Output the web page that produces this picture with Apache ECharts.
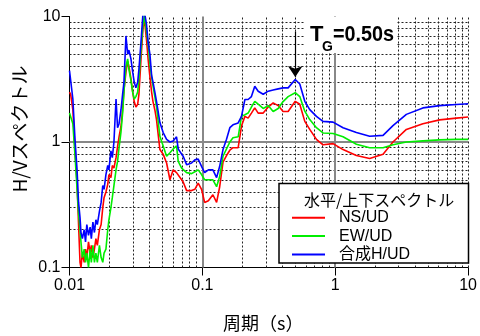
<!DOCTYPE html>
<html><head><meta charset="utf-8">
<script src="https://cdn.jsdelivr.net/npm/echarts@6/dist/echarts.min.js"></script>
<style>html,body{margin:0;padding:0;background:#fff}#c{width:480px;height:336px}</style>
</head><body><div id="c"></div>
<script>
const periods = [
0.01, 0.0102, 0.0106, 0.011, 0.0114, 0.0117, 0.012, 0.0122, 0.0125, 0.0129,
0.0132, 0.0135, 0.0139, 0.0143, 0.0146, 0.015, 0.0154, 0.0158, 0.0162, 0.0168,
0.0173, 0.0178, 0.0182, 0.0188, 0.0194, 0.0198, 0.0205, 0.021, 0.0216, 0.0224,
0.023, 0.0236, 0.0244, 0.0251, 0.0257, 0.0266, 0.0274, 0.028, 0.029, 0.0299,
0.0307, 0.0316, 0.0326, 0.0333, 0.0345, 0.0357, 0.0366, 0.038, 0.0391, 0.0403,
0.0415, 0.0425, 0.0439, 0.0452, 0.0479, 0.0507, 0.0538, 0.057, 0.0603, 0.0639,
0.0658, 0.0698, 0.0717, 0.0761, 0.0829, 0.0878, 0.093, 0.0986, 0.104, 0.111,
0.12, 0.128, 0.135, 0.143, 0.152, 0.161, 0.17, 0.186, 0.197, 0.209,
0.221, 0.234, 0.248, 0.263, 0.287, 0.313, 0.341, 0.372, 0.405, 0.442,
0.5, 0.541, 0.59, 0.643, 0.722, 0.809, 0.963, 1.145, 1.443, 1.816,
2.29, 2.72, 3.43, 4.57, 6.1, 8.15, 10
];
const nsUd = [
2.5, 2.4, 1.8, 0.87, 0.47, 0.22, 0.11, 0.1, 0.13, 0.11,
0.14, 0.12, 0.16, 0.13, 0.15, 0.12, 0.14, 0.17, 0.15, 0.2,
0.22, 0.3, 0.36, 0.4, 0.46, 0.55, 0.52, 0.65, 0.62, 0.75,
0.92, 1.1, 1.33, 1.8, 2.6, 3.6, 4.4, 4.0, 3.2, 2.5,
2.1, 1.9, 2.0, 2.4, 4.5, 8.0, 9.5, 6.5, 4.5, 3.3,
2.5, 2.1, 1.8, 1.5, 0.87, 0.8, 0.68, 0.5, 0.6, 0.57,
0.55, 0.5, 0.48, 0.41, 0.41, 0.42, 0.47, 0.42, 0.33, 0.34,
0.38, 0.33, 0.44, 0.69, 0.78, 0.86, 0.9, 0.9, 1.34, 1.6,
1.55, 1.7, 1.87, 1.7, 1.7, 1.9, 2.05, 1.95, 1.75, 1.75,
2.11, 2.0, 1.46, 1.26, 1.05, 0.95, 0.97, 0.87, 0.78, 0.74,
0.8, 1.0, 1.26, 1.4, 1.5, 1.55, 1.58
];
const ewUd = [
1.7, 1.65, 1.4, 0.78, 0.42, 0.27, 0.2, 0.16, 0.12, 0.14,
0.11, 0.13, 0.1, 0.14, 0.11, 0.15, 0.11, 0.13, 0.11, 0.15,
0.12, 0.11, 0.13, 0.14, 0.2, 0.24, 0.3, 0.36, 0.45, 0.6,
0.7, 0.9, 1.2, 1.7, 2.5, 4.0, 4.6, 3.8, 3.1, 2.5,
2.2, 2.3, 2.5, 3.2, 5.4, 8.5, 10.2, 7.5, 6.0, 4.2,
3.3, 2.8, 2.3, 1.9, 1.11, 0.93, 0.77, 0.82, 0.88, 0.93,
0.7, 0.62, 0.6, 0.57, 0.56, 0.58, 0.6, 0.55, 0.5, 0.5,
0.5, 0.44, 0.53, 0.77, 0.88, 1.0, 1.08, 1.1, 1.6, 1.65,
1.7, 1.9, 2.11, 2.0, 1.85, 1.95, 1.75, 1.85, 2.1, 2.3,
2.47, 2.3, 1.76, 1.51, 1.3, 1.18, 1.17, 1.1, 0.96, 0.9,
0.9, 0.95, 1.0, 1.02, 1.04, 1.05, 1.05
];
const hUd = [
3.7, 3.6, 2.2, 1.05, 0.6, 0.33, 0.25, 0.19, 0.17, 0.2,
0.16, 0.22, 0.18, 0.21, 0.17, 0.23, 0.19, 0.24, 0.22, 0.28,
0.33, 0.45, 0.42, 0.55, 0.65, 0.6, 0.85, 0.75, 1.0, 2.2,
1.3, 1.4, 1.8, 2.4, 3.0, 7.0, 5.0, 5.4, 4.6, 3.6,
3.0, 2.7, 3.0, 3.8, 6.2, 10.5, 11, 8.6, 6.2, 5.0,
3.4, 3.0, 2.5, 2.1, 1.43, 1.19, 1.05, 1.0, 1.02, 1.1,
0.88, 0.8, 0.77, 0.66, 0.68, 0.72, 0.73, 0.64, 0.57, 0.6,
0.6, 0.52, 0.64, 0.87, 1.05, 1.3, 1.37, 1.42, 1.6, 2.18,
2.18, 2.3, 2.78, 2.54, 2.4, 2.54, 2.6, 2.65, 2.7, 2.7,
3.15, 2.9, 2.11, 1.81, 1.6, 1.46, 1.44, 1.3, 1.19, 1.11,
1.13, 1.35, 1.66, 1.87, 1.95, 1.99, 2.02
];
const seriesNames = ['NS/UD', 'EW/UD', '合成H/UD'];
const seriesColors = ['#ff0000', '#00ee00', '#0000ff'];
const xTickLabels = ['0.01', '0.1', '1', '10'];
const yTickLabels = ['0.1', '1', '10'];
const xMinorGrid = [0.02,0.03,0.04,0.05,0.06,0.07,0.08,0.09,0.2,0.3,0.4,0.5,0.6,0.7,0.8,0.9,2,3,4,5,6,7,8,9,10];
const xMajorGrid = [0.1, 1];
const yMinorGrid = [0.2,0.3,0.4,0.5,0.6,0.7,0.8,0.9,2,3,4,5,6,7,8,9];
const yMajorGrid = [1];
const tgPeriod = 0.5;
const tgArrowFrom = 7.6;
const tgArrowTo = 3.3;

const chart = echarts.init(document.getElementById('c'), null, {renderer: 'canvas'});
const dotted = {color: '#222', width: 1, type: [2, 2]};
const solidGray = {color: '#888', width: 2, type: 'solid'};
const gridLines = [].concat(
  xMinorGrid.map(v => ({xAxis: v, lineStyle: dotted})),
  yMinorGrid.map(v => ({yAxis: v, lineStyle: dotted})),
  xMajorGrid.map(v => ({xAxis: v, lineStyle: solidGray})),
  yMajorGrid.map(v => ({yAxis: v, lineStyle: solidGray}))
);
const latin = 'Liberation Sans, Arial, sans-serif';
const cjk = 'Noto Sans CJK JP, sans-serif';
const mk = (name, vals, color, z) => ({
  type: 'line', name: name, data: periods.map((p, i) => [p, vals[i]]),
  symbol: 'none', showSymbol: false, z: z, clip: true,
  lineStyle: {color: color, width: 1.6}, itemStyle: {color: color},
  animation: false
});
const blue = mk(seriesNames[2], hUd, seriesColors[2], 5);
blue.markLine = {
  silent: true, z: 7, animation: false,
  symbol: ['none', 'arrow'], symbolSize: 11,
  lineStyle: {color: '#000', width: 1.2, type: 'solid'},
  label: {show: false},
  data: [[{coord: [tgPeriod, tgArrowFrom]}, {coord: [tgPeriod, tgArrowTo]}]]
};
const option = {
  animation: false,
  grid: {left: 69.5, right: 11.5, top: 16.5, bottom: 68.5},
  xAxis: {
    type: 'log', logBase: 10, min: 0.01, max: 10,
    axisLine: {onZero: false, lineStyle: {color: '#000', width: 1}},
    axisTick: {show: true, length: 8, lineStyle: {color: '#000'}},
    axisLabel: {fontSize: 16, color: '#000', fontFamily: latin, margin: 10,
      formatter: v => xTickLabels[Math.round(Math.log10(v)) + 2]},
    splitLine: {show: false}
  },
  yAxis: {
    type: 'log', logBase: 10, min: 0.1, max: 10,
    axisLine: {onZero: false, lineStyle: {color: '#000', width: 1}},
    axisTick: {show: true, length: 8, lineStyle: {color: '#000'}},
    axisLabel: {fontSize: 16, color: '#000', fontFamily: latin, margin: 9,
      formatter: v => yTickLabels[Math.round(Math.log10(v)) + 1]},
    splitLine: {show: false}
  },
  legend: {
    data: seriesNames.map((n, i) => ({name: n, icon: 'rect', itemStyle: {color: seriesColors[i]}})),
    left: 287, top: 203.5, orient: 'vertical',
    itemWidth: 33, itemHeight: 2, itemGap: 0, z: 12,
    textStyle: {fontSize: 16, lineHeight: 18.4, color: '#000', fontFamily: latin + ', ' + cjk, padding: [0, 0, 0, 9]},
    selectedMode: false
  },
  series: [
    {type: 'line', name: 'grid', data: [], z: 1, silent: true,
      markLine: {silent: true, z: 1, symbol: 'none', label: {show: false}, animation: false, data: gridLines}},
    mk(seriesNames[0], nsUd, seriesColors[0], 3),
    mk(seriesNames[1], ewUd, seriesColors[1], 4),
    blue
  ],
  graphic: [
    {type: 'rect', z: 8, shape: {x: 305, y: 17, width: 92, height: 36}, style: {fill: '#fff'}},
    {type: 'text', z: 9, x: 310, y: 35, style: {text: 'T', fontSize: 22, fontWeight: 'bold', fontFamily: latin, fill: '#000', align: 'left', verticalAlign: 'middle'}},
    {type: 'text', z: 9, x: 322, y: 47, style: {text: 'G', fontSize: 14, fontWeight: 'bold', fontFamily: latin, fill: '#000', align: 'left', verticalAlign: 'middle'}},
    {type: 'text', z: 9, x: 333, y: 35, scaleX: 0.9, style: {text: '=0.50s', fontSize: 22, fontWeight: 'bold', fontFamily: latin, fill: '#000', align: 'left', verticalAlign: 'middle'}},
    {type: 'rect', z: 10, shape: {x: 279, y: 183.5, width: 189.5, height: 79.5}, style: {fill: '#fff', stroke: '#000', lineWidth: 1.5}},
    {type: 'text', z: 11, x: 304, y: 200, style: {text: '水平/上下スペクトル', fontSize: 16, fontFamily: cjk, fill: '#000', align: 'left', verticalAlign: 'middle'}},
    {type: 'text', z: 9, x: 20, y: 129, rotation: Math.PI / 2, style: {text: 'H/Vスペクトル', fontSize: 19, fontFamily: cjk, fill: '#000', align: 'center', verticalAlign: 'middle'}},
    {type: 'text', z: 9, x: 223, y: 323, style: {text: '周期（s）', fontSize: 18, fontFamily: cjk, fill: '#000', align: 'left', verticalAlign: 'middle'}}
  ]
};
chart.setOption(option);
</script>
</body></html>
